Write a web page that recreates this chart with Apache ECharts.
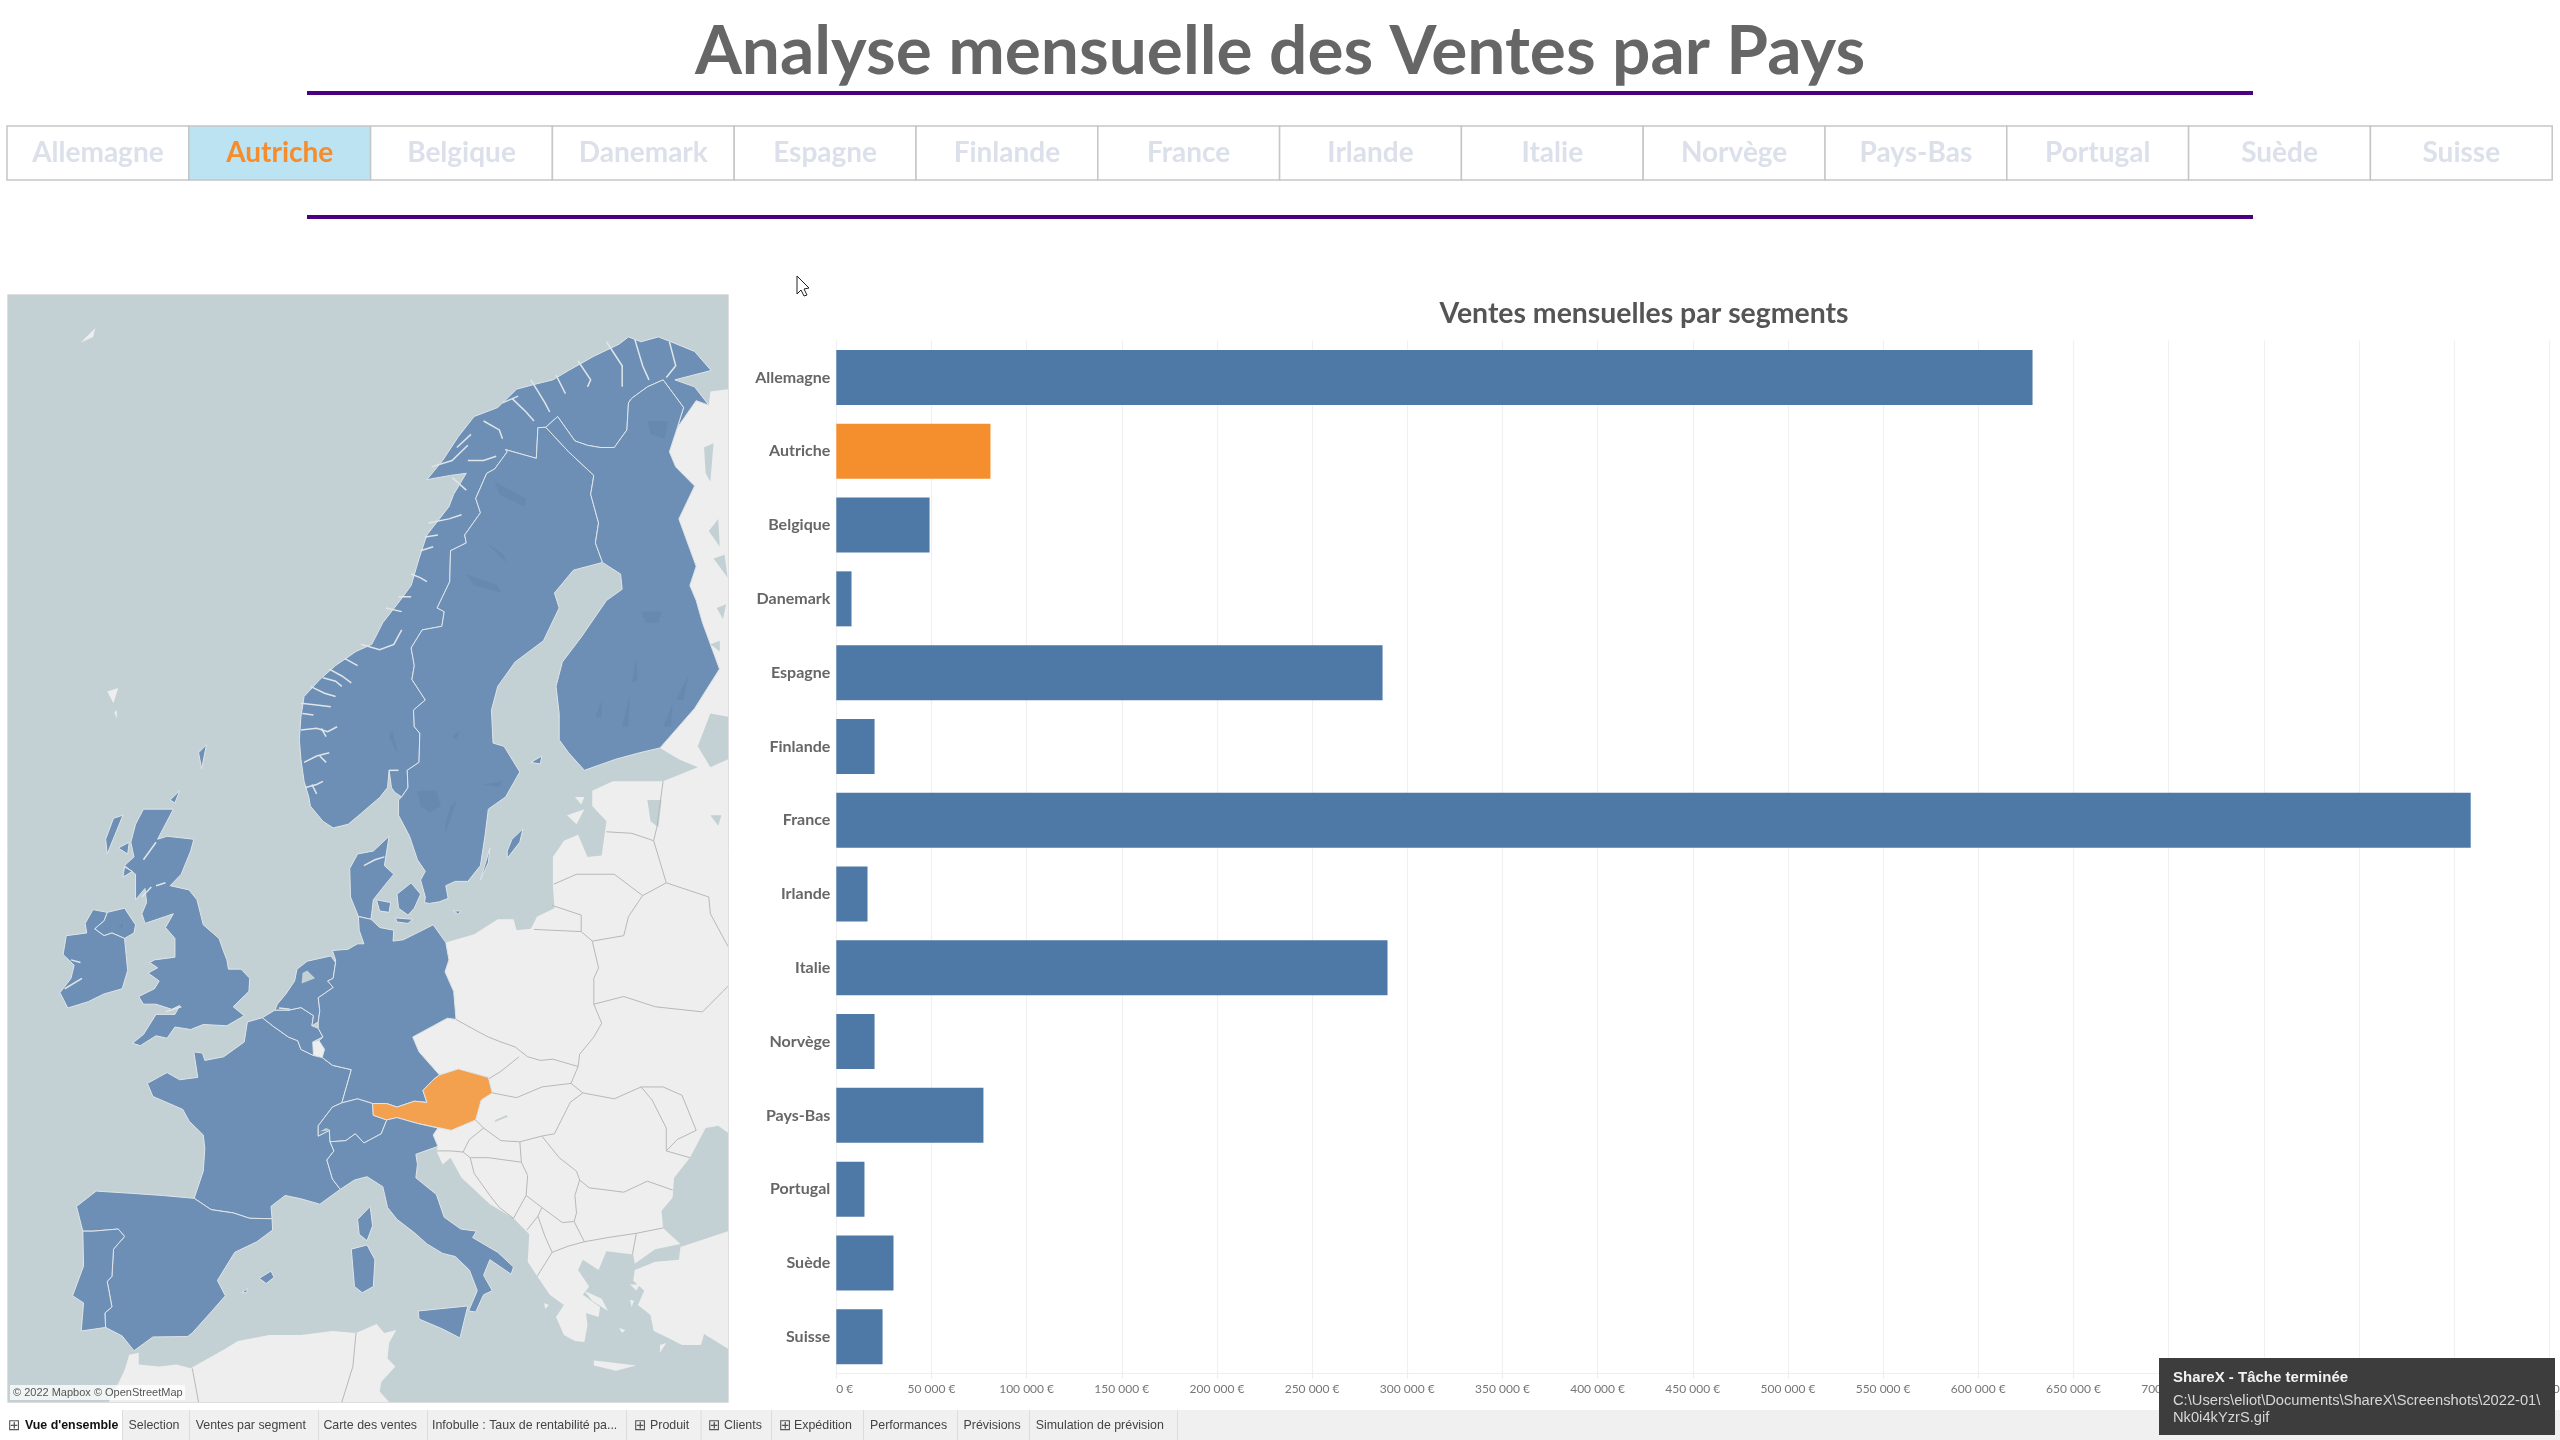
<!DOCTYPE html>
<html><head><meta charset="utf-8"><title>Analyse mensuelle des Ventes par Pays</title>
<script src="https://cdn.jsdelivr.net/npm/echarts@6/dist/echarts.min.js"></script>
<style>html,body{margin:0;padding:0;background:#fff}#c{width:2560px;height:1440px}</style></head><body><div id="c"></div>
<script>
// ---------- data ----------
const categories = ['Allemagne','Autriche','Belgique','Danemark','Espagne','Finlande','France','Irlande','Italie','Norvège','Pays-Bas','Portugal','Suède','Suisse'];
const salesValues = [628500,81000,49000,8000,287000,20100,858700,16400,289600,20100,77300,14800,30050,24300];
const selectedCountry = 'Autriche';
const mainTitle = 'Analyse mensuelle des Ventes par Pays';
const subTitle = 'Ventes mensuelles par segments';
const axisMax = 900000;
const axisStep = 50000;
const sheetTabs = [
 ["Vue d'ensemble",25,true,8],['Selection',128.5],['Ventes par segment',195.7],['Carte des ventes',323.4],
 ['Infobulle : Taux de rentabilité pa...',432],['Produit',650,false,634],['Clients',724,false,708],['Expédition',794,false,779],
 ['Performances',870],['Prévisions',963.5],['Simulation de prévision',1035.7]];
const sheetDividers = [122,189,318,427,626,700.6,771,863,957,1029,1177];

// map outlines: [longitude, latitude]
const mapBounds = [[-13.6,71.84],[32.12,33.35]];
const seaBox = [[-13.6,71.84],[32.12,71.84],[32.12,33.35],[-13.6,33.35]];
const norway = [[7.05,57.98],[8,58.1],[8.8,58.45],[10,58.98],[10.5,59.3],[10.6,59.85],[10.75,59.3],[10.95,59.15],[11.4,59],[11.8,59.3],[11.75,59.85],[12.5,60.1],[12.55,61],[12.2,61.2],[12.15,61.7],[12.9,62],[12.05,62.6],[12.2,63],[12,63.5],[12.7,64],[13.95,64.1],[14.1,64.5],[13.65,64.6],[14.45,65.3],[14.5,66.1],[15.5,66.3],[15.4,66.5],[16.4,67.05],[16.1,67.4],[16.8,68],[17.3,68.1],[18.1,68.5],[18,68.55],[19.95,68.35],[20.05,69.05],[20.55,69.06],[21.3,69.3],[22.4,68.75],[23.2,68.65],[24,68.6],[24.9,68.6],[25.7,69],[25.8,69.6],[26,69.7],[27,69.95],[28,70.1],[29.3,69.5],[28.9,69.05],[30.1,69.65],[30.9,69.55],[30,69.95],[28.75,70.1],[31.05,70.3],[30,70.7],[28.5,70.9],[27.7,71],[26.6,70.9],[25.8,71],[25.2,70.85],[23.6,70.6],[22,70.3],[21,70.1],[19.8,70],[18.7,69.9],[17.5,69.5],[16,69.3],[15,68.85],[14,68.3],[13,67.85],[14.5,67.95],[15.5,68],[14.7,67.5],[14.4,67.2],[13,66.5],[12.5,65.9],[12,65.2],[11.3,64.8],[10.2,64.2],[9.5,63.6],[8.5,63.4],[7.2,63],[6.2,62.6],[5.2,62.1],[5,61.5],[4.9,60.8],[5,60.2],[5.2,59.5],[5.5,59],[5.6,58.7],[6.4,58.2]];
const sweden = [[12.85,55.4],[13.15,55.37],[13.8,55.43],[14.35,55.55],[14.2,56],[14.8,56.15],[15.6,56.15],[16.4,56.7],[16.7,57.75],[16.9,58.6],[18,59],[18.9,59.8],[17.9,60.6],[17.2,60.7],[17.1,61.7],[17.5,62.4],[18.6,63.1],[20.4,63.7],[21.4,64.6],[21.1,65],[22.3,65.6],[24.15,65.8],[23.7,66.3],[23.9,66.8],[23.4,67.5],[23.6,67.95],[22,68.5],[20.55,69.06],[20.05,69.05],[19.95,68.35],[18,68.55],[18.1,68.5],[17.3,68.1],[16.8,68],[16.1,67.4],[16.4,67.05],[15.4,66.5],[15.5,66.3],[14.5,66.1],[14.45,65.3],[13.65,64.6],[14.1,64.5],[13.95,64.1],[12.7,64],[12,63.5],[12.2,63],[12.05,62.6],[12.9,62],[12.15,61.7],[12.2,61.2],[12.55,61],[12.5,60.1],[11.75,59.85],[11.8,59.3],[11.4,59],[11.2,58.9],[11.2,58.4],[11.9,57.7],[12.4,56.9],[12.9,56.5],[12.6,56.2],[12.9,55.6]];
const gotland = [[18.1,56.95],[18.9,57.5],[19.1,57.95],[18.4,57.6],[18.1,57.2]];
const oland = [[16.4,56.2],[17,57.3],[16.9,56.8]];
const finland = [[24.15,65.8],[23.7,66.3],[23.9,66.8],[23.4,67.5],[23.6,67.95],[22,68.5],[20.55,69.06],[21.3,69.3],[22.4,68.75],[23.2,68.65],[24,68.6],[24.9,68.6],[25.7,69],[25.8,69.6],[26,69.7],[27,69.95],[28,70.1],[29.3,69.5],[28.9,69.05],[28.4,68.5],[28.8,68.15],[30,67.7],[29,66.9],[30.1,65.7],[29.7,65.2],[30.1,64.8],[30.5,64.2],[31.58,62.9],[30,61.75],[27.8,60.55],[26.5,60.4],[25,60.2],[23,59.85],[22,60.4],[21.4,60.8],[21.4,61.6],[21.2,62.4],[21.6,63.1],[22.8,63.8],[24.4,64.8],[25.4,65.1],[25.3,65.5]];
const aland = [[19.6,60.1],[20.3,60.3],[20.2,60.05]];
const jutland = [[8.65,54.9],[9.45,54.8],[9.6,55.5],[10.3,56],[10.9,56.4],[10.3,56.7],[10.6,57.7],[9.6,57.2],[8.6,57.1],[8.1,56.6],[8.15,55.6]];
const funen = [[9.8,55.5],[10.7,55.4],[10.6,55.05],[10,55.1]];
const zealand = [[11.1,55.7],[12,56.1],[12.6,55.7],[12.2,55.2],[11.8,54.95],[11.2,55.2]];
const lolland = [[11,54.85],[12.1,54.8],[11.8,54.65],[11.1,54.7]];
const bornholm = [[14.7,55.1],[15.15,55.1],[15,54.98]];
const britain = [[-5.7,50.05],[-5.2,49.95],[-4.2,50.35],[-3.5,50.25],[-3,50.7],[-2,50.6],[-1.2,50.8],[0.3,50.75],[1.4,51.15],[0.7,51.5],[1.7,52.1],[1.75,52.6],[1.2,52.95],[0.4,52.95],[0.3,53.3],[0.1,53.6],[-0.2,54.1],[-1.2,54.6],[-1.6,55.5],[-2.1,55.85],[-3.3,56],[-2.6,56.4],[-2,57.2],[-1.8,57.6],[-3.5,57.7],[-4.1,57.6],[-3.1,58.6],[-5,58.6],[-5.5,58.1],[-5.8,57.5],[-5.6,57],[-6.2,56.7],[-5.5,56.4],[-5.5,55.5],[-4.9,55.9],[-4.8,55.4],[-5.1,55],[-4.9,54.65],[-3.6,54.9],[-3.1,55],[-3.6,54.5],[-3,54.1],[-3,53.4],[-4.3,53.3],[-4.6,53.2],[-4.1,53],[-4.7,52.8],[-4,52.5],[-4.3,52.2],[-5.3,51.9],[-5,51.6],[-4.2,51.6],[-3.2,51.4],[-2.7,51.55],[-3,51.2],[-4.2,51.2],[-5,50.4]];
const northIreland = [[-7.3,55.05],[-6.2,55.2],[-5.5,54.6],[-5.6,54.3],[-6.2,54.1],[-7,54.3],[-7.5,54.2],[-8.1,54.45],[-7.5,54.75]];
const hebrides = [[-7.3,57.1],[-6.3,58.4],[-6.9,58.3],[-7.4,57.6]];
const skye = [[-6.6,57.3],[-5.9,57.5],[-6,57.1]];
const mull = [[-6.3,56.3],[-5.7,56.5],[-6.2,56.65]];
const orkney = [[-3.3,58.9],[-2.7,59.2],[-3,58.8]];
const shetland = [[-1.3,59.9],[-1,60.65],[-1.5,60.4]];
const ireland = [[-7.3,55.05],[-7.5,54.75],[-8.1,54.45],[-7.5,54.2],[-7,54.3],[-6.2,54.1],[-6.1,53.5],[-6,52.9],[-6.35,52.2],[-7.5,52],[-8.5,51.7],[-9.8,51.45],[-10.3,52.05],[-9.6,52.6],[-9.4,53.1],[-10.1,53.5],[-9.9,54.2],[-8.6,54.3],[-8.7,54.65],[-8.2,55.15]];
const france = [[2.55,51.07],[3.2,50.75],[4.2,50.3],[4.8,50.15],[5,49.8],[5.8,49.55],[6.35,49.47],[7,49.15],[8.2,48.97],[7.6,47.58],[7,47.4],[6.1,46.6],[6.1,46.15],[6.8,46.4],[6.85,45.9],[7.1,45.5],[6.65,45.1],[7,44.25],[7.5,43.78],[6.2,43.1],[5,43.35],[4,43.5],[3.1,43],[3.17,42.43],[1.75,42.45],[0.7,42.7],[-0.7,42.85],[-1.78,43.37],[-1.2,44.6],[-1.1,45.6],[-1.2,46.2],[-2.1,46.8],[-2.5,47.3],[-4.4,47.85],[-4.75,48.4],[-3.5,48.85],[-2.7,48.55],[-1.55,48.65],[-1.8,49.7],[-1.25,49.65],[-1.1,49.35],[0.1,49.5],[1.4,50.1],[1.6,50.9]];
const corsica = [[8.6,42.4],[9.4,43],[9.55,42.1],[9.2,41.4],[8.7,41.7]];
const belgium = [[2.55,51.07],[3.35,51.37],[4.25,51.37],[5,51.47],[5.8,51.15],[5.7,50.75],[6.1,50.65],[6.4,50.3],[5.75,50.1],[5.8,49.55],[5,49.8],[4.8,50.15],[4.2,50.3],[3.2,50.75]];
const luxembourg = [[5.75,50.1],[6.15,50.15],[6.5,49.8],[6.35,49.47],[5.8,49.55]];
const netherlands = [[3.35,51.37],[3.5,51.6],[4.05,52],[4.6,52.5],[4.75,52.95],[5.4,53.25],[6.9,53.45],[7.2,53.2],[7.05,52.6],[6.7,52.5],[7.05,52.25],[6.1,51.85],[6.2,51.35],[6.1,50.9],[5.7,50.75],[5.8,51.15],[5,51.47],[4.25,51.37]];
const ijsselmeer = [[5.05,52.4],[5.9,52.6],[5.4,52.9],[5.1,52.8]];
const germany = [[7.2,53.3],[7,53.65],[8,53.7],[8.6,53.9],[9,53.9],[8.7,54.4],[8.65,54.9],[9.45,54.8],[10,54.5],[10.9,54.4],[10.85,54],[11.5,54.05],[12.2,54.25],[13.4,54.6],[14.2,53.95],[14.4,53.3],[14.15,52.85],[14.7,52.1],[14.85,51],[14.3,51.05],[12.1,50.3],[12.5,49.7],[13.8,48.75],[13.4,48.55],[12.75,48.1],[13,47.6],[12.2,47.65],[11.1,47.4],[10.45,47.55],[9.55,47.55],[8.6,47.75],[7.6,47.58],[8.2,48.97],[7,49.15],[6.35,49.47],[6.5,49.8],[6.15,50.15],[6.4,50.3],[6.1,50.65],[6.1,50.9],[6.2,51.35],[6.1,51.85],[7.05,52.25],[6.7,52.5],[7.05,52.6],[7.2,53.2]];
const switzerland = [[7.6,47.58],[8.6,47.75],[9.55,47.55],[9.6,47.05],[10.45,46.85],[10.1,46.25],[9,45.85],[8.45,46.25],[7.85,45.95],[6.85,45.9],[6.8,46.4],[6.1,46.15],[6.1,46.6],[7,47.4]];
const austria = [[9.55,47.55],[10.45,47.55],[11.1,47.4],[12.2,47.65],[13,47.6],[12.75,48.1],[13.4,48.55],[13.8,48.75],[15,49],[16.9,48.65],[17.15,48],[16.45,47.7],[16.1,46.85],[14.55,46.4],[12.4,46.7],[11.1,46.95],[10.45,46.85],[9.6,47.05]];
const italy = [[7.5,43.78],[7,44.25],[6.65,45.1],[7.1,45.5],[6.85,45.9],[7.85,45.95],[8.45,46.25],[9,45.85],[10.1,46.25],[10.45,46.85],[11.1,46.95],[12.4,46.7],[13.7,46.5],[13.4,46.2],[13.7,45.7],[12.3,45.35],[12.4,44.9],[12.3,44.3],[13.6,43.55],[14.1,42.5],[15.15,41.95],[16.15,41.85],[15.9,41.55],[17.5,40.85],[18.5,40.15],[18.35,39.8],[17,40.5],[16.6,39.75],[17.15,39],[16.6,38.8],[16.1,37.95],[15.65,38],[16.2,39],[15.7,40],[14.8,40.65],[14,40.8],[13,41.25],[12.25,41.75],[11.1,42.4],[10.5,42.95],[10.2,43.9],[9.2,44.35],[8.4,44.2]];
const sicily = [[12.45,38],[15.6,38.25],[15.1,36.65],[14,37.1],[12.5,37.6]];
const sardinia = [[8.2,41],[9.2,41.2],[9.7,40.5],[9.6,39.2],[8.9,38.9],[8.4,39.2]];
const spain = [[-1.78,43.37],[-0.7,42.85],[0.7,42.7],[1.75,42.45],[3.17,42.43],[3.2,41.9],[2.2,41.35],[0.8,40.85],[-0.3,39.5],[0.2,38.75],[-0.7,37.95],[-1.9,36.9],[-2.2,36.72],[-4.4,36.7],[-5.6,36],[-6.35,36.75],[-7.4,37.18],[-7.45,37.9],[-7,38.2],[-7.3,39.45],[-7,39.7],[-6.9,41],[-6.2,41.6],[-6.6,41.95],[-8.2,41.85],[-8.85,41.85],[-9.25,43],[-8,43.7],[-5.8,43.6],[-3.8,43.5]];
const mallorca = [[2.35,39.6],[3.1,39.95],[3.3,39.65],[2.8,39.35]];
const ibiza = [[1.25,38.9],[1.6,39.1],[1.55,38.9]];
const portugal = [[-8.85,41.85],[-8.2,41.85],[-6.6,41.95],[-6.2,41.6],[-6.9,41],[-7,39.7],[-7.3,39.45],[-7,38.2],[-7.45,37.9],[-7.4,37.18],[-8.95,37],[-8.8,38.4],[-9.5,38.75],[-8.8,40.2]];
const easternEurope = [[32.12,69.9],[32.12,46.3],[31.5,46.6],[30.7,46.5],[29.7,45.2],[28.7,44.3],[28.6,43.4],[27.9,42.8],[28,42],[29.1,41.25],[27.5,41],[26.2,40.3],[26.1,40.75],[24.4,40.9],[23.9,40],[22.9,40.5],[22.6,40],[23.3,39.2],[22.9,38.8],[24,38.2],[23.9,37.7],[23.1,37.9],[23.2,37.3],[23,36.45],[22.4,36.5],[21.7,36.8],[21.2,37.7],[21.7,38.3],[20.8,38.8],[20,39.7],[19.4,40.4],[19.5,41.7],[18.5,42.45],[17,43.1],[15.2,44.3],[14.5,45.2],[14,44.9],[13.6,45.5],[13.7,45.7],[13.4,46.2],[13.7,46.5],[14.55,46.4],[16.1,46.85],[16.45,47.7],[17.15,48],[16.9,48.65],[15,49],[13.8,48.75],[12.5,49.7],[12.1,50.3],[14.3,51.05],[14.85,51],[14.7,52.1],[14.15,52.85],[14.4,53.3],[14.2,53.95],[16,54.25],[17.5,54.8],[18.5,54.8],[18.7,54.4],[19.6,54.45],[20,54.9],[21.1,55.2],[21,56],[21,57],[21.7,57.55],[22.6,57.75],[23.2,57],[24.1,57.05],[24.4,58.2],[23.5,58.7],[23.5,59.2],[24.8,59.5],[28,59.5],[30.2,59.95],[29,60.2],[27.8,60.55],[30,61.75],[31.58,62.9],[30.5,64.2],[30.1,64.8],[29.7,65.2],[30.1,65.7],[29,66.9],[30,67.7],[28.8,68.15],[28.4,68.5],[28.9,69.05],[30.1,69.65],[30.9,69.55],[31,69.85]];
const anatolia = [[29.1,41.1],[32.12,41.85],[32.12,36.1],[30.6,36.85],[30.4,36.3],[29.2,36.3],[28.2,36.7],[27.4,37],[27.2,37.8],[26.4,38.3],[26.8,39],[26.1,39.5],[26.2,40],[27.5,40.4],[29,40.5]];
const northAfrica = [[-7.2,33.35],[-6.85,33.9],[-6.2,35],[-5.9,35.8],[-5.3,35.9],[-5.3,35.3],[-4,35.2],[-2.9,35.3],[-2,35.1],[-0.7,35.7],[0.2,36.1],[1,36.5],[3,36.8],[5,36.8],[7,37],[8.5,36.9],[9.8,37.35],[10.3,36.9],[11.05,37.05],[10.6,36.4],[10.5,35.6],[11,35.2],[10.1,34.4],[10,33.9],[10.6,33.35]];
const crete = [[23.6,35.5],[24.2,35.45],[26.3,35.25],[25,34.98],[23.6,35.25]];
const euboea = [[23,39],[24.1,38.6],[24.5,38],[23.5,38.5]];
const naxos = [[25.2,37.15],[25.6,37.05],[25.4,36.9]];
const lesbos = [[25.9,39.3],[26.5,39.3],[26.3,39]];
const chios = [[25.9,38.55],[26.15,38.5],[26,38.2]];
const rhodes = [[27.8,36.3],[28.2,36.4],[27.8,35.9]];
const kefalonia = [[20.45,38.4],[20.75,38.3],[20.5,38.1]];
const janMayen = [[-9,70.88],[-8.05,71.18],[-8.2,71.0]];
const faroe = [[-7.3,62.25],[-6.6,62.35],[-6.9,61.9]];
const suduroy = [[-6.85,61.62],[-6.7,61.7],[-6.68,61.45]];
const saaremaa = [[21.9,58.4],[23,58.6],[22.5,58.1]];
const hiiumaa = [[22.4,59],[23,59],[22.8,58.75]];
// water on land
const ladoga = [[30.2,60.6],[31,61.6],[32.12,61.5],[32.12,60.2],[31,59.95]];
const peipus = [[27,58.9],[27.9,58.9],[27.7,58],[27.2,58.2]];
const ilmen = [[31,58.4],[31.7,58.4],[31.5,58.05]];
const balaton = [[17.3,46.75],[18.15,47.0],[18.05,47.05],[17.35,46.85]];
const geneva = [[6.2,46.35],[6.9,46.4],[6.6,46.5]];
const imandra = [[30.6,68.6],[31.2,68.7],[31,67.8],[30.7,68]];
const pyaozero = [[30.9,66.6],[31.5,66.9],[31.6,66.2]];
const topozero = [[31.2,65.9],[31.9,66],[32.1,65.4]];
const segozero = [[31.4,64.6],[32,64.7],[31.8,64.3]];
const lekshmozero = [[31,63.6],[31.6,63.7],[31.6,63.4]];
// darker inland lakes
const vanern = [[12.4,59.2],[13.6,59.2],[13.9,58.7],[13.2,58.5],[12.6,58.7]];
const vattern = [[14.2,57.8],[14.9,58.9],[14.5,58.7],[14.15,58.1]];
const malaren = [[16.5,59.4],[17.8,59.5],[17.6,59.3]];
const siljan = [[14.6,60.9],[15.1,61.1],[14.9,60.8]];
const storuman = [[15.5,65.5],[17.5,65.2],[17.7,65],[16,65.2]];
const hornavan = [[16.8,66.3],[18,65.8],[17.9,66]];
const akkajaure = [[17.3,67.8],[19.3,67.4],[19.2,67.2],[17.6,67.5]];
const inari = [[27,69.2],[28.3,69.2],[28.1,68.8],[27.2,68.9]];
const oulujarvi = [[26.6,64.5],[27.9,64.5],[27.7,64.2],[26.9,64.2]];
const paijanne = [[25.4,61.2],[25.9,62.2],[25.8,61.2]];
const saimaaSud = [[28,61.2],[28.6,61.9],[28.5,61.2]];
const saimaaNord = [[28.8,62],[29.6,62.7],[29.3,62]];
const keitele = [[26,62.5],[26.3,63.2],[26.4,62.6]];
const nasijarvi = [[23.7,61.5],[24.1,62],[24.1,61.5]];
const mjosa = [[10.6,60.9],[11.2,60.3],[10.8,61.1]];
const neagh = [[-6.6,54.5],[-6.3,54.7],[-6.3,54.5]];

// inland borders of the non-selling countries
const greyBorders = [
 [[19.8,54.43],[22.8,54.35],[23.5,54],[23.9,53],[23.6,52.6],[23.6,51.6],[24.1,50.85],[23.6,50.3],[22.7,49.6],[22.6,49.1]],
 [[14.85,51],[16,50.6],[16.9,50.3],[17.7,50.1],[18.6,49.9],[19.4,49.5],[20.2,49.35],[21,49.4],[22.6,49.1]],
 [[18.85,49.5],[17.7,48.9],[16.95,48.6]],
 [[17.15,48],[18.7,47.8],[20.3,48.25],[22.15,48.4],[22.6,49.1]],
 [[16.1,46.85],[16.6,46.5],[17.7,45.95],[18.9,45.9],[20.3,46.15],[21.1,46.25],[22.1,47.6],[22.9,48],[22.15,48.4]],
 [[16.6,46.5],[15.7,46],[15.3,45.45],[14.5,45.5],[13.6,45.5]],
 [[15.3,45.45],[15.75,45.2],[16.9,45.2],[19,45],[19.4,44.4],[19.3,43.5],[18.5,42.45]],
 [[15.75,45.2],[16,44.5],[17,43.5],[17.6,42.95],[18.5,42.45]],
 [[18.9,45.9],[19,45]],
 [[20.3,46.15],[21.4,45.2],[22.5,44.6],[22.7,44.2]],
 [[22.7,44.2],[22.4,43.5],[22.5,42.7],[22.35,42.3]],
 [[19.3,43.5],[20.3,42.95],[20.05,42.55],[19.35,41.9]],
 [[20.3,42.95],[21.6,42.25],[22.35,42.3],[23,41.35],[22,41.15],[20.95,40.85],[20.5,41.6],[20.05,42.55]],
 [[20.95,40.85],[20,39.7]],
 [[23,41.35],[24.5,41.55],[26.3,41.75],[26.05,40.75]],
 [[26.3,41.75],[28,42]],
 [[22.7,44.2],[23.3,43.85],[25.5,43.65],[27,44.15],[28.6,43.75]],
 [[22.9,48],[24.9,47.75],[26.6,48.25],[27.3,47.7],[28.2,46.5],[28.2,45.5],[29.7,45.2]],
 [[26.6,48.25],[28,48.25],[29.2,47.9],[30.1,46.4],[28.9,46],[28.2,45.5]],
 [[23.6,51.6],[25.5,51.9],[27.5,51.5],[30.5,51.3],[31.8,52.1],[32.12,52.3]],
 [[23.5,54],[25.5,54.2],[25.8,54.9],[26.7,55.65],[28.2,56.1],[30.9,55.6],[31,55],[32.12,53.8]],
 [[21.05,56.05],[22.5,56.4],[24.9,56.4],[26.7,55.65]],
 [[20.95,55.3],[22.8,54.95],[22.8,54.35]],
 [[24.4,57.85],[26,57.8],[27.4,57.55]],
 [[28.2,56.1],[27.4,57.55],[27.6,58],[28,59.5]],
 [[-1.9,35.1],[-1.5,33.35]],[[8.5,36.9],[8.3,35.2],[7.6,33.35]]
];
// fjords and sea inlets cutting the blue coast
const fjordLines = [
 [[5,61.1],[6,61.15],[6.7,61.05],[7.3,61.2]],[[6.3,61.15],[6.6,60.9]],[[5.2,60.1],[6,60.3],[6.8,60.4]],[[6.2,60.3],[6.6,60.1]],[[5.3,59.3],[6,59.4],[6.4,59.5]],[[5.7,59.4],[6,59.1]],
 [[5,61.9],[6,61.85],[6.9,61.8]],[[5.1,61.6],[5.8,61.55]],[[5.6,62.4],[6.5,62.2],[7.2,62.1]],[[6.4,62.65],[7.2,62.55],[7.6,62.4]],[[6.8,62.9],[7.6,62.7],[8.2,62.5]],[[7.8,63.2],[8.6,63]],
 [[8.8,63.6],[10,63.45],[10.9,63.6],[11.4,64]],[[10.4,64.6],[11.4,64.5]],[[11.2,64.9],[12,64.9]],
 [[12,65.5],[12.6,65.4],[13,65.3]],[[12.6,66.1],[13.4,66.2]],[[12.9,66.45],[13.7,66.5]],[[13.1,66.8],[14.4,66.9],[15.2,67]],[[14.6,67.9],[15.5,67.6]],[[15.6,68.3],[16.6,68.3],[17.4,68.4]],
 [[16.6,69.2],[17.6,69],[17.8,68.8]],[[18.4,69.7],[19.3,69.4],[19.8,69.2]],[[19.6,70.1],[20.5,69.6],[20.8,69.4]],[[21.2,70.2],[21.8,69.8]],[[22.6,70.5],[23.4,70.1],[23.2,69.95]],
 [[24.4,70.9],[25.4,70.4],[25.4,69.95]],[[26.2,70.95],[26.7,70.4],[27.1,70.1]],[[28.4,70.9],[28.8,70.4],[28.2,70.15]],
 [[13.3,68.15],[14.6,68.3],[15.6,68.65]],[[14.9,68.6],[15.8,68.9]],[[17.8,69.6],[18.8,69.75]],[[-5,56.9],[-4.2,57.5]],[[-3.6,56.1],[-4.2,56]],
 [[11.2,59.85],[10.6,59.85]],[[-4.5,55.95],[-5.1,55.6]],[[-9.6,53.3],[-9,53.2]],[[-10,52.2],[-8.9,52.6]],[[9,56.7],[9.7,56.9],[10.3,57]],[[3.6,51.45],[4.3,51.4]],[[-2.6,51.5],[-3.6,51.3]]
];
const blueRegions = {Norvège:[norway],Suède:[sweden,gotland,oland],Finlande:[finland,aland],Danemark:[jutland,funen,zealand,lolland,bornholm],
 'Royaume-Uni':[britain,hebrides,skye,mull,orkney,shetland],'Irlande du Nord':[northIreland],Irlande:[ireland],France:[france,corsica],Belgique:[belgium],'Pays-Bas':[netherlands],
 Allemagne:[germany],Suisse:[switzerland],Autriche:[austria],Italie:[italy,sicily,sardinia],Espagne:[spain,mallorca,ibiza],Portugal:[portugal]};
const greyRegions = {Est:[easternEurope,anatolia,crete,euboea,naxos,lesbos,chios,rhodes,kefalonia,saaremaa,hiiumaa],Afrique:[northAfrica],Luxembourg:[luxembourg],Autres:[janMayen,faroe,suduroy]};
const waterRegions = {Lacs:[ladoga,peipus,ilmen,balaton,geneva,imandra,pyaozero,topozero,segozero,lekshmozero,ijsselmeer]};
const lakeRegions = {Etangs:[vanern,vattern,malaren,siljan,storuman,hornavan,akkajaure,inari,oulujarvi,paijanne,saimaaSud,saimaaNord,keitele,nasijarvi,mjosa,neagh]};

// ---------- build ----------
const colors = {sea:'#c3d1d4',land:'#eeeeee',blue:'#6d8fb5',lake:'#668aaf',orange:'#f3a04f',bar:'#4e79a7',barSel:'#f58f2d'};
const feature = (name, polys) => ({type:'Feature',properties:{name},geometry:{type:'MultiPolygon',coordinates:polys.map(p=>[p.concat([p[0]])])}});
const features = [feature('Mer',[seaBox])];
const regionStyles = [{name:'Mer',itemStyle:{areaColor:colors.sea,borderWidth:0}}];
const addGroup = (group, fill, bw, bc) => Object.keys(group).forEach(k => {
  features.push(feature(k, group[k]));
  regionStyles.push({name:k,itemStyle:{areaColor:k===selectedCountry?colors.orange:fill,borderWidth:bw,borderColor:bc}});
});
addGroup(greyRegions, colors.land, 0, colors.land);
addGroup(blueRegions, colors.blue, 1, '#dfe5e9');
addGroup(waterRegions, colors.sea, 0, colors.sea);
addGroup(lakeRegions, colors.lake, 0, colors.lake);
echarts.registerMap('europe', {type:'FeatureCollection',features});

const FONT = 'Lato';
const SANS = '"Liberation Sans"';
const tabX0 = 7, tabW = 181.8, tabY = 126, tabH = 54;
const g = [];
[91,215].forEach(y => g.push({type:'rect',z:10,shape:{x:307,y,width:1946,height:4},style:{fill:'#4b0082'}}));
categories.forEach((c,i) => {
  const sel = c===selectedCountry;
  g.push({type:'rect',z:10,shape:{x:tabX0+i*tabW,y:tabY,width:tabW,height:tabH},style:{fill:sel?'#bbe3f2':'#fff',stroke:'#c6c6c6',lineWidth:1.5}});
  g.push({type:'text',z:11,style:{x:tabX0+i*tabW+tabW/2,y:tabY+tabH/2,text:c,align:'center',verticalAlign:'middle',font:`700 28px ${FONT}`,fill:sel?'#f58d2e':'#dbe0ea'}});
});
// map frame and credit
g.push({type:'rect',z:20,shape:{x:7.5,y:294.5,width:721,height:1108},style:{fill:'none',stroke:'#dedede',lineWidth:1}});
g.push({type:'rect',z:20,shape:{x:10,y:1385,width:175,height:15},style:{fill:'rgba(255,255,255,0.75)'}});
g.push({type:'text',z:21,style:{x:13,y:1393,text:'© 2022 Mapbox © OpenStreetMap',verticalAlign:'middle',font:`11px ${SANS}`,fill:'#555'}});
// cursor
g.push({type:'polygon',z:30,shape:{points:[[797,276],[797,294],[801,290],[804,296],[807,295],[804,289],[809,288]]},style:{fill:'#fff',stroke:'#222',lineWidth:1}});
// sheet tabs
g.push({type:'rect',z:10,shape:{x:0,y:1410,width:2560,height:30},style:{fill:'#f0f0f0'}});
g.push({type:'rect',z:11,shape:{x:0,y:1410,width:122,height:30},style:{fill:'#ffffff'}});
sheetDividers.forEach(x => g.push({type:'rect',z:11,shape:{x,y:1410,width:1,height:30},style:{fill:'#dcdcdc'}}));
sheetTabs.forEach(([t,x,active,icon]) => {
  g.push({type:'text',z:12,style:{x,y:1426,text:t,verticalAlign:'middle',font:`${active?'700 ':''}12.4px ${SANS}`,fill:active?'#111':'#444'}});
  if (icon!==undefined) g.push({type:'text',z:12,style:{x:icon,y:1426,text:'⊞',verticalAlign:'middle',font:'15px "DejaVu Sans"',fill:'#555'}});
});
// notification
g.push({type:'rect',z:40,shape:{x:2159,y:1358,width:396,height:77},style:{fill:'#3d3d3d'}});
g.push({type:'text',z:41,style:{x:2173,y:1378,text:'ShareX - Tâche terminée',verticalAlign:'middle',font:`700 15px ${SANS}`,fill:'#f2f2f2'}});
g.push({type:'text',z:41,style:{x:2173,y:1401,text:'C:\\Users\\eliot\\Documents\\ShareX\\Screenshots\\2022-01\\',verticalAlign:'middle',font:`14.7px ${SANS}`,fill:'#d8d8d8'}});
g.push({type:'text',z:41,style:{x:2173,y:1418,text:'Nk0i4kYzrS.gif',verticalAlign:'middle',font:`14.7px ${SANS}`,fill:'#d8d8d8'}});

const chart = echarts.init(document.getElementById('c'),null,{renderer:'canvas',width:2560,height:1440});
chart.setOption({
  animation:false, backgroundColor:'#fff',
  title:[
    {text:mainTitle,left:1280,top:52,textAlign:'center',textVerticalAlign:'middle',padding:0,textStyle:{fontFamily:FONT,fontWeight:700,fontSize:67.6,color:'#666'}},
    {text:subTitle,left:1644,top:314,textAlign:'center',textVerticalAlign:'middle',padding:0,textStyle:{fontFamily:FONT,fontWeight:700,fontSize:28.4,color:'#555'}}
  ],
  tooltip:{show:false},
  grid:{left:836.3,top:340.6,width:1713,height:1033,containLabel:false,outerBoundsMode:'none'},
  xAxis:{type:'value',min:0,max:axisMax,interval:axisStep,
    axisLine:{show:true,lineStyle:{color:'#eeeeee',width:1}},
    axisTick:{show:true,length:5,lineStyle:{color:'#eeeeee'}},
    splitLine:{show:true,showMinLine:true,showMaxLine:true,lineStyle:{color:'#f0f0f0',width:1.2}},
    axisLabel:{show:true,margin:9.5,interval:0,hideOverlap:false,alignMinLabel:'left',fontFamily:FONT,fontSize:12,color:'#777',
      formatter:v=>String(v).replace(/\B(?=(\d{3})+$)/g,' ')+' €'}},
  yAxis:{type:'category',inverse:true,data:categories,axisLine:{show:false},axisTick:{show:false},splitLine:{show:false},
    axisLabel:{margin:6,interval:0,fontFamily:FONT,fontWeight:700,fontSize:16,color:'#666'}},
  geo:{map:'europe',silent:true,roam:false,left:8,top:295,width:720,height:1107,
    projection:{project:p=>[p[0]/180*Math.PI,-Math.log(Math.tan(Math.PI/4+p[1]/180*Math.PI/2))],
                unproject:p=>[p[0]*180/Math.PI,(2*Math.atan(Math.exp(-p[1]))-Math.PI/2)*180/Math.PI]},
    boundingCoords:mapBounds,
    label:{show:false},emphasis:{disabled:true},select:{disabled:true},
    itemStyle:{areaColor:colors.land,borderWidth:0},regions:regionStyles},
  series:[
    {type:'bar',barWidth:55,silent:true,data:salesValues.map((v,i)=>({value:v,itemStyle:{color:categories[i]===selectedCountry?colors.barSel:colors.bar}}))},
    {type:'lines',coordinateSystem:'geo',polyline:true,silent:true,z:5,lineStyle:{color:'#b8b8b8',width:1,opacity:1},data:greyBorders.map(c=>({coords:c}))},
    {type:'lines',coordinateSystem:'geo',polyline:true,silent:true,z:5,lineStyle:{color:'#dfe5e9',width:1.5,opacity:1},data:fjordLines.map(c=>({coords:c}))}
  ],
  graphic:{elements:g}
});
</script></body></html>
